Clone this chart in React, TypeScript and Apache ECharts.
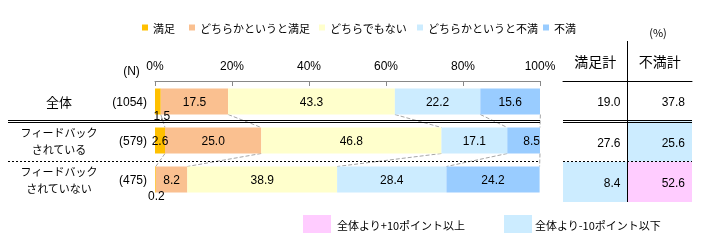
import React, { useEffect, useRef } from 'react';
import * as echarts from 'echarts';

const categories = ['全体', 'フィードバック\nされている', 'フィードバック\nされていない'];
const sampleSizes = [1054, 579, 475];
const seriesNames = ['満足', 'どちらかというと満足', 'どちらでもない', 'どちらかというと不満', '不満'];
const satisfied = [1.5, 2.6, 0.2];
const somewhatSatisfied = [17.5, 25.0, 8.2];
const neutral = [43.3, 46.8, 38.9];
const somewhatDissatisfied = [22.2, 17.1, 28.4];
const dissatisfied = [15.6, 8.5, 24.2];
const tableColumns = ['満足計', '不満計'];
const satisfiedTotal = [19.0, 27.6, 8.4];
const dissatisfiedTotal = [37.8, 25.6, 52.6];
const highlightLabels = ['全体より+10ポイント以上', '全体より-10ポイント以下'];

const COLORS = ['#FFC000', '#FAC090', '#FFFFCC', '#CCECFF', '#99CCFF'];
const PINK = '#FFCCFF';
const LIGHTBLUE = '#CCECFF';
const JP = "'Noto Sans CJK JP', sans-serif";
const NUM = "'Liberation Sans', Arial, sans-serif";
const BAR_W = 26;

export default function App() {
  const ref = useRef<HTMLDivElement>(null);
  useEffect(() => {
    if (!ref.current) return;
    const chart = echarts.init(ref.current, null, { renderer: 'svg' });
    const values = [satisfied, somewhatSatisfied, neutral, somewhatDissatisfied, dissatisfied];
    const cum = categories.map((_, r) => {
      let s = 0;
      return values.map((v) => (s += v[r]));
    });
    const linkData: number[][] = [];
    for (let r = 0; r < categories.length - 1; r++) {
      for (let k = 0; k < values.length; k++) linkData.push([cum[r][k], cum[r + 1][k], r]);
    }
    const tableData: number[][] = [];
    const totals = [satisfiedTotal, dissatisfiedTotal];
    categories.forEach((_, r) => {
      totals.forEach((t, c) => {
        const d = t[r] - t[0];
        const flag = r === 0 ? 0 : d >= 10 ? 1 : d <= -10 ? -1 : 0;
        tableData.push([c, r, t[r], flag]);
      });
    });

    const barSeries = seriesNames.map((name, si) => ({
      type: 'bar',
      name,
      stack: 'all',
      xAxisIndex: 0,
      yAxisIndex: 0,
      barWidth: BAR_W,
      itemStyle: { color: COLORS[si] },
      label: {
        show: true,
        color: '#000',
        fontSize: 12,
        fontFamily: NUM,
        formatter: (p: any) => Number(p.value).toFixed(1),
      },
      data: values[si].map((v, r) => {
        if (si === 0 && r === 0) return { value: v, label: { position: 'bottom', distance: 0, offset: [4, -5] } };
        if (si === 0 && r === 2) return { value: v, label: { position: 'bottom', distance: 0, offset: [1, -3] } };
        if (si === 4 && r === 1) return { value: v, label: { offset: [8, 0] } };
        return v;
      }),
    }));

    const legendLefts = [137, 184, 314, 412, 538];
    const line = (x1: number, y1: number, x2: number, y2: number, extra: any = {}) => ({
      type: 'line',
      z: 100,
      shape: { x1, y1, x2, y2 },
      style: { stroke: '#000', lineWidth: 1, ...extra },
    });

    chart.setOption({
      animation: false,
      legend: seriesNames.map((n, i) => ({
        data: [n],
        left: legendLefts[i],
        top: 17,
        itemWidth: 6,
        itemHeight: 6,
        icon: 'rect',
        textStyle: { fontSize: 11, fontFamily: JP, color: '#000' },
        selectedMode: false,
      })),
      grid: [
        { left: 155, width: 385, top: 82, height: 117 },
        { left: 563, width: 129, top: 81, height: 121 },
      ],
      xAxis: [
        {
          type: 'value',
          gridIndex: 0,
          position: 'top',
          offset: 1,
          min: 0,
          max: 100,
          interval: 20,
          axisLine: { show: true, lineStyle: { color: '#888' } },
          axisTick: { show: true, inside: true, length: 5, lineStyle: { color: '#888' } },
          splitLine: { show: false },
          axisLabel: { formatter: '{value}%', margin: 9, fontSize: 12, fontFamily: NUM, color: '#000' },
        },
        {
          type: 'category',
          gridIndex: 1,
          position: 'top',
          data: tableColumns,
          axisLine: { show: true, lineStyle: { color: '#000' } },
          axisTick: { show: false },
          axisLabel: { margin: 13, fontSize: 14, fontFamily: JP, color: '#000' },
        },
      ],
      yAxis: [
        {
          type: 'category',
          gridIndex: 0,
          data: categories,
          inverse: true,
          axisLine: { show: false },
          axisTick: { show: false },
          axisLabel: {
            margin: 8,
            fontSize: 12,
            fontFamily: NUM,
            color: '#000',
            formatter: (_v: string, i: number) => `(${sampleSizes[i]})`,
          },
        },
        {
          type: 'category',
          gridIndex: 0,
          data: categories,
          inverse: true,
          position: 'left',
          axisLine: { show: false },
          axisTick: { show: false },
          axisLabel: {
            margin: 96,
            align: 'center',
            fontSize: 11,
            lineHeight: 17,
            fontFamily: JP,
            color: '#000',
            formatter: (v: string) => (v === categories[0] ? `{big|${v}}` : v),
            rich: { big: { fontSize: 13, fontFamily: JP, color: '#000' } },
          },
        },
        {
          type: 'category',
          gridIndex: 1,
          data: categories,
          inverse: true,
          show: false,
        },
      ],
      series: [
        ...barSeries,
        {
          type: 'custom',
          xAxisIndex: 0,
          yAxisIndex: 0,
          encode: { x: [0, 1], y: 2 },
          data: linkData,
          silent: true,
          renderItem: (_p: any, api: any) => {
            const row = api.value(2);
            const p1 = api.coord([api.value(0), row]);
            const p2 = api.coord([api.value(1), row + 1]);
            return {
              type: 'line',
              shape: { x1: p1[0], y1: p1[1] + BAR_W / 2, x2: p2[0], y2: p2[1] - BAR_W / 2 },
              style: { stroke: '#A6A6A6', lineWidth: 1, lineDash: [4, 2] },
            };
          },
        },
        {
          type: 'custom',
          xAxisIndex: 1,
          yAxisIndex: 2,
          encode: { x: 0, y: 1 },
          data: tableData,
          silent: true,
          renderItem: (_p: any, api: any) => {
            const c = api.coord([api.value(0), api.value(1)]);
            const s = api.size([1, 1]);
            const flag = api.value(3);
            const fill = flag > 0 ? PINK : flag < 0 ? LIGHTBLUE : 'rgba(0,0,0,0)';
            return {
              type: 'group',
              children: [
                { type: 'rect', shape: { x: c[0] - s[0] / 2, y: c[1] - s[1] / 2, width: s[0], height: s[1] }, style: { fill } },
                {
                  type: 'text',
                  style: {
                    text: Number(api.value(2)).toFixed(1),
                    x: c[0] + s[0] / 2 - 7,
                    y: c[1] + 1,
                    align: 'right',
                    verticalAlign: 'middle',
                    fill: '#000',
                    fontSize: 12,
                    fontFamily: NUM,
                  },
                },
              ],
            };
          },
        },
      ],
      graphic: [
        line(8, 120.5, 540, 120.5),
        line(8, 122.5, 540, 122.5),
        line(563, 120.5, 692, 120.5),
        line(563, 122.5, 692, 122.5),
        line(8, 161.5, 540, 161.5, { lineDash: [2, 2] }),
        line(563, 161.5, 692, 161.5, { lineDash: [2, 2] }),
        line(627.5, 41, 627.5, 202),
        { type: 'text', z: 100, style: { text: '(%)', x: 658, y: 32, align: 'center', verticalAlign: 'middle', fontSize: 11, fontFamily: JP, fill: '#000' } },
        { type: 'text', z: 100, style: { text: '(N)', x: 131.5, y: 71, align: 'center', verticalAlign: 'middle', fontSize: 12, fontFamily: NUM, fill: '#000' } },
        { type: 'rect', z: 100, shape: { x: 303, y: 215, width: 28, height: 18 }, style: { fill: PINK } },
        { type: 'text', z: 100, style: { text: highlightLabels[0], x: 337, y: 225, verticalAlign: 'middle', fontSize: 11, fontFamily: JP, fill: '#000' } },
        { type: 'rect', z: 100, shape: { x: 504, y: 215, width: 28, height: 18 }, style: { fill: LIGHTBLUE } },
        { type: 'text', z: 100, style: { text: highlightLabels[1], x: 535, y: 225, verticalAlign: 'middle', fontSize: 11, fontFamily: JP, fill: '#000' } },
      ],
    });
    return () => chart.dispose();
  }, []);
  return <div ref={ref} style={{ position: 'fixed', left: 0, top: 0, width: 711, height: 252 }} />;
}
